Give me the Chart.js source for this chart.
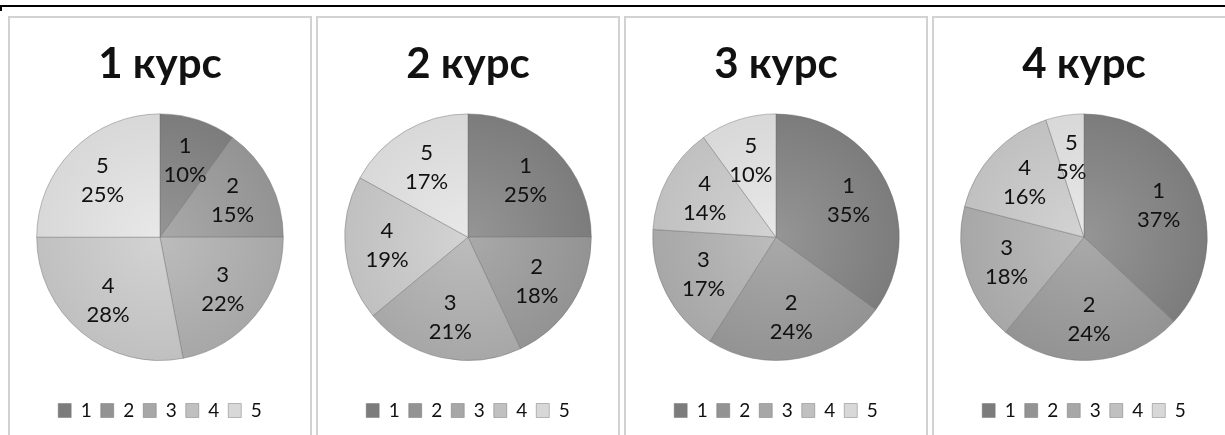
<!DOCTYPE html>
<html>
<head>
<meta charset="utf-8">
<script src="https://cdn.jsdelivr.net/npm/chart.js@4.4.1/dist/chart.umd.min.js"></script>
<style>
    html, body { margin: 0; padding: 0; background: #fff; overflow: hidden; }
    body { width: 1225px; height: 435px; position: relative; font-family: Lato, sans-serif; }
    .topline { position: absolute; left: 0; top: 5px; width: 1225px; height: 2px; background: #000; }
    .tick { position: absolute; left: 0; top: 5px; width: 2px; height: 6px; background: #000; }
    .panel { position: absolute; top: 16px; width: 304px; height: 440px; box-sizing: border-box; border: 2px solid #d2d2d2; }
    .panel .wrap { position: absolute; left: 0; top: 0; width: 300px; height: 412px; }
</style>
</head>
<body>
<div class="topline"></div>
<div class="tick"></div>
<div class="panel" style="left:8px"><div class="wrap"><canvas id="c1"></canvas></div></div>
<div class="panel" style="left:316px"><div class="wrap"><canvas id="c2"></canvas></div></div>
<div class="panel" style="left:624px"><div class="wrap"><canvas id="c3"></canvas></div></div>
<div class="panel" style="left:932px"><div class="wrap"><canvas id="c4"></canvas></div></div>

<script>
// Data
const courses = ['1 курс', '2 курс', '3 курс', '4 курс'];
const grades = ['1', '2', '3', '4', '5'];
const course1 = [10, 15, 22, 28, 25];
const course2 = [25, 18, 21, 19, 17];
const course3 = [35, 24, 17, 14, 10];
const course4 = [37, 24, 18, 16, 5];

// grey shades, inner (lighter) and outer (darker) for each grade
const innerColors = ['#959595', '#a9a9a9', '#bcbcbc', '#d3d3d3', '#e8e8e8'];
const outerColors = ['#7c7c7c', '#939393', '#a7a7a7', '#c0c0c0', '#d8d8d8'];

// draws "grade / percent" inside each slice
const sliceLabels = {
    id: 'sliceLabels',
    afterDatasetsDraw(chart) {
        const ctx = chart.ctx;
        const meta = chart.getDatasetMeta(0);
        const values = chart.data.datasets[0].data;
        ctx.save();
        ctx.font = '22px Lato';
        ctx.fillStyle = '#111';
        ctx.textAlign = 'center';
        ctx.textBaseline = 'middle';
        meta.data.forEach((arc, i) => {
            const p = arc.getProps(['x', 'y', 'startAngle', 'endAngle', 'outerRadius'], true);
            const mid = (p.startAngle + p.endAngle) / 2;
            const r = p.outerRadius * 0.66;
            const x = p.x + Math.cos(mid) * r;
            const y = p.y + Math.sin(mid) * r;
            ctx.fillText(chart.data.labels[i], x, y - 14);
            ctx.fillText(values[i] + '%', x, y + 15);
        });
        ctx.restore();
    }
};

function sliceFill(context) {
    const chart = context.chart;
    const area = chart.chartArea;
    const i = context.dataIndex;
    if (!area) return innerColors[i];
    const cx = (area.left + area.right) / 2;
    const cy = (area.top + area.bottom) / 2;
    const r = Math.min(area.width, area.height) / 2;
    const g = chart.ctx.createRadialGradient(cx, cy, 0, cx, cy, r);
    g.addColorStop(0, innerColors[i]);
    g.addColorStop(1, outerColors[i]);
    return g;
}

function makePie(id, title, values) {
    new Chart(document.getElementById(id), {
        type: 'pie',
        data: {
            labels: grades,
            datasets: [{
                data: values,
                backgroundColor: sliceFill,
                borderColor: 'rgba(110,110,110,0.45)',
                borderWidth: 1
            }]
        },
        options: {
            responsive: true,
            maintainAspectRatio: false,
            animation: false,
            layout: { padding: 0 },
            plugins: {
                title: {
                    display: true,
                    text: title,
                    color: '#111',
                    font: { family: 'Lato', size: 42, weight: 'bold' },
                    padding: { top: 21, bottom: 24 }
                },
                legend: {
                    position: 'bottom',
                    title: {
                        display: true,
                        text: '',
                        font: { size: 10 },
                        padding: { top: 19, bottom: 0 }
                    },
                    labels: {
                        boxWidth: 13,
                        boxHeight: 14,
                        padding: 9,
                        color: '#111',
                        font: { family: 'Lato', size: 19 }
                    }
                },
                tooltip: { enabled: false }
            }
        },
        plugins: [sliceLabels]
    });
}

document.addEventListener('DOMContentLoaded', function () {
    makePie('c1', courses[0], course1);
    makePie('c2', courses[1], course2);
    makePie('c3', courses[2], course3);
    makePie('c4', courses[3], course4);
});
</script>
</body>
</html>
